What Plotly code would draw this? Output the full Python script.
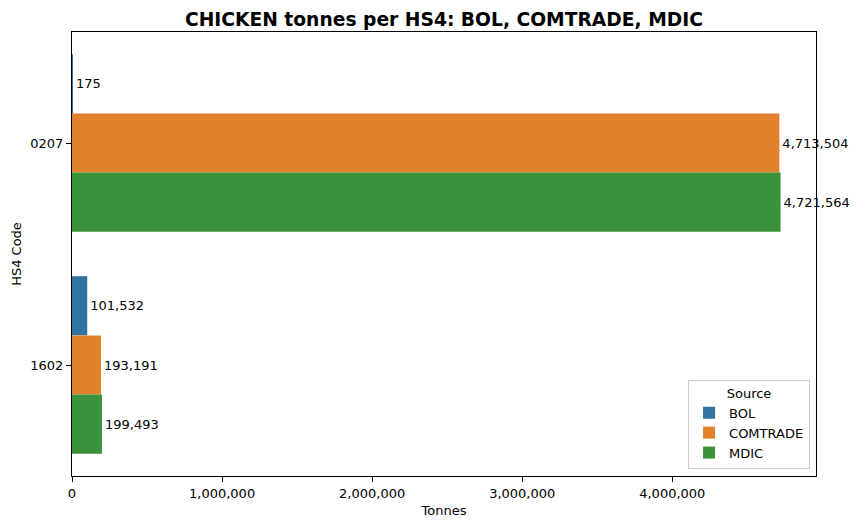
import plotly.graph_objects as go

categories = ["0207", "1602"]
sources = ["BOL", "COMTRADE", "MDIC"]
bol = [175, 101532]
comtrade = [4713504, 193191]
mdic = [4721564, 199493]
colors = ["#3274a1", "#e1812c", "#3a923a"]

series = [bol, comtrade, mdic]

fig = go.Figure()
for name, vals, col in zip(sources, series, colors):
    fig.add_trace(go.Bar(
        y=categories, x=vals, name=name, orientation="h",
        marker=dict(color=col, line=dict(width=0)),
        text=[f"{v:,}" for v in vals], textposition="outside",
        textfont=dict(size=13, color="black", family="DejaVu Sans"),
        cliponaxis=False, constraintext="none",
    ))

fig.update_layout(
    width=854, height=520,
    margin=dict(l=64, r=46, t=24, b=52),
    barmode="group", bargap=0.2, bargroupgap=0,
    plot_bgcolor="white", paper_bgcolor="white",
    font=dict(family="DejaVu Sans", size=13, color="black"),
    title=dict(text="<b>CHICKEN tonnes per HS4: BOL, COMTRADE, MDIC</b>",
               x=0.5105, xanchor="center", y=0.978, yanchor="middle",
               font=dict(size=18.7, family="DejaVu Sans")),
    xaxis=dict(range=[0, 4957642], tickformat=",", ticks="outside", ticklen=5,
               tickcolor="black", showline=True, linecolor="black", linewidth=1,
               mirror=True, showgrid=False, zeroline=False, automargin=False,
               title=dict(text="Tonnes", font=dict(size=13), standoff=6),
               tickvals=[0, 1000000, 2000000, 3000000, 4000000]),
    yaxis=dict(autorange="reversed", ticks="outside", ticklen=5, tickcolor="black",
               showline=True, linecolor="black", linewidth=1, mirror=True,
               showgrid=False, automargin=False,
               title=dict(text="HS4 Code", font=dict(size=13), standoff=5)),
    legend=dict(x=0.992, y=0.016, xanchor="right", yanchor="bottom",
                bordercolor="#cccccc", borderwidth=1, bgcolor="rgba(255,255,255,0.8)",
                title=dict(text="Source", side="top center", font=dict(size=13)),
                font=dict(size=13), traceorder="normal"),
)

fig.write_html("out.html")
